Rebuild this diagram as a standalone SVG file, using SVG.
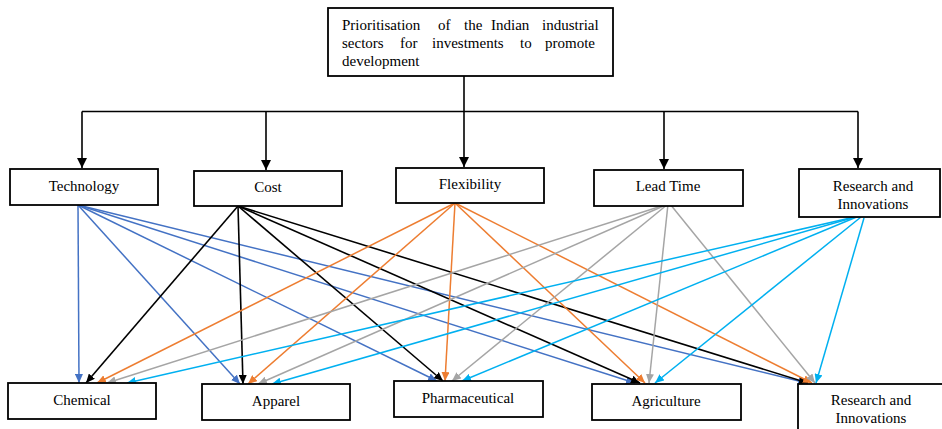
<svg xmlns="http://www.w3.org/2000/svg" width="942" height="429" viewBox="0 0 942 429">
<style>
.box{fill:#fff;stroke:#000;stroke-width:1.8}
.t{font-family:'Liberation Serif','DejaVu Serif',serif;font-size:15px;fill:#000}
.c{text-anchor:middle}
.main{stroke:#000;stroke-width:1.6;fill:none}
.bl{stroke:#4472C4;stroke-width:1.5;fill:none;marker-end:url(#mbl)}
.bk{stroke:#000;stroke-width:1.6;fill:none;marker-end:url(#mbk)}
.or{stroke:#ED7D31;stroke-width:1.5;fill:none;marker-end:url(#mor)}
.gr{stroke:#A5A5A5;stroke-width:1.5;fill:none;marker-end:url(#mgr)}
.cy{stroke:#00B0F0;stroke-width:1.5;fill:none;marker-end:url(#mcy)}
</style>
<defs>
<marker id="mtop" markerUnits="userSpaceOnUse" markerWidth="10" markerHeight="10" refX="10" refY="5" orient="auto"><path d="M0,0 L10,5 L0,10 z" fill="#000"/></marker>
<marker id="mbl" markerUnits="userSpaceOnUse" markerWidth="9" markerHeight="8" refX="9" refY="4" orient="auto"><path d="M0,0 L9,4 L0,8 z" fill="#4472C4"/></marker>
<marker id="mbk" markerUnits="userSpaceOnUse" markerWidth="9" markerHeight="8" refX="9" refY="4" orient="auto"><path d="M0,0 L9,4 L0,8 z" fill="#000"/></marker>
<marker id="mor" markerUnits="userSpaceOnUse" markerWidth="9" markerHeight="8" refX="9" refY="4" orient="auto"><path d="M0,0 L9,4 L0,8 z" fill="#ED7D31"/></marker>
<marker id="mgr" markerUnits="userSpaceOnUse" markerWidth="9" markerHeight="8" refX="9" refY="4" orient="auto"><path d="M0,0 L9,4 L0,8 z" fill="#A5A5A5"/></marker>
<marker id="mcy" markerUnits="userSpaceOnUse" markerWidth="9" markerHeight="8" refX="9" refY="4" orient="auto"><path d="M0,0 L9,4 L0,8 z" fill="#00B0F0"/></marker>
</defs>
<rect width="942" height="429" fill="#fff"/>

<g id="connectors">
<path class="main" d="M464,76 V167" marker-end="url(#mtop)"/>
<path class="main" d="M82,111.5 H858"/>
<path class="main" d="M82,111.5 V168" marker-end="url(#mtop)"/>
<path class="main" d="M266,111.5 V170" marker-end="url(#mtop)"/>
<path class="main" d="M664,111.5 V169" marker-end="url(#mtop)"/>
<path class="main" d="M858,111.5 V168" marker-end="url(#mtop)"/>

<path class="bl" d="M78,205 L79,383"/>
<path class="bl" d="M78,205 L240,384"/>
<path class="bl" d="M78,205 L437,381"/>
<path class="bl" d="M78,205 L635,383"/>
<path class="bl" d="M78,205 L807,383"/>

<path class="bk" d="M238,206 L86,383"/>
<path class="bk" d="M238,206 L243,384"/>
<path class="bk" d="M238,206 L443,381"/>
<path class="bk" d="M238,206 L640,383"/>
<path class="bk" d="M238,206 L808,383"/>

<path class="or" d="M455,203 L97,383"/>
<path class="or" d="M455,203 L248,384"/>
<path class="or" d="M455,203 L445,381"/>
<path class="or" d="M455,203 L645,383"/>
<path class="or" d="M455,203 L812,383"/>

<path class="gr" d="M668,204 L107,383"/>
<path class="gr" d="M668,204 L258,384"/>
<path class="gr" d="M668,204 L452,381"/>
<path class="gr" d="M668,204 L649,383"/>
<path class="gr" d="M670,204 L815,383"/>

<path class="cy" d="M859,216 L127,383"/>
<path class="cy" d="M859,216 L272,384"/>
<path class="cy" d="M859,216 L462,381"/>
<path class="cy" d="M861,217 L655,383"/>
<path class="cy" d="M864,218 L816,383"/>
</g>

<g id="goal">
<rect class="box" x="328" y="8" width="285" height="68"/>
<text class="t" y="30"><tspan x="342">Prioritisation</tspan><tspan x="438">of</tspan><tspan x="464">the</tspan><tspan x="491">Indian</tspan><tspan x="542">industrial</tspan></text>
<text class="t" y="48"><tspan x="342">sectors</tspan><tspan x="400">for</tspan><tspan x="432">investments</tspan><tspan x="520">to</tspan><tspan x="545">promote</tspan></text>
<text class="t" x="342" y="66">development</text>
</g>

<g id="technology"><rect class="box" x="10" y="169" width="148" height="36"/><text class="t c" x="84" y="191">Technology</text></g>
<g id="cost"><rect class="box" x="194" y="171" width="148" height="35"/><text class="t c" x="268" y="192">Cost</text></g>
<g id="flexibility"><rect class="box" x="396" y="168" width="148" height="35"/><text class="t c" x="470" y="189">Flexibility</text></g>
<g id="leadtime"><rect class="box" x="594" y="170" width="149" height="36"/><text class="t c" x="668" y="191">Lead Time</text></g>
<g id="research-criterion"><rect class="box" x="799" y="169" width="141" height="48"/><text class="t c" x="873" y="191">Research and</text><text class="t c" x="873" y="209">Innovations</text></g>

<g id="chemical"><rect class="box" x="8" y="383" width="148" height="36"/><text class="t c" x="82" y="405">Chemical</text></g>
<g id="apparel"><rect class="box" x="202" y="384" width="148" height="36"/><text class="t c" x="276" y="406">Apparel</text></g>
<g id="pharmaceutical"><rect class="box" x="394" y="381" width="149" height="36"/><text class="t c" x="468" y="403">Pharmaceutical</text></g>
<g id="agriculture"><rect class="box" x="592" y="384" width="149" height="36"/><text class="t c" x="666" y="406">Agriculture</text></g>
<g id="research-sector"><rect class="box" x="798" y="384" width="150" height="50"/><text class="t c" x="871" y="405">Research and</text><text class="t c" x="871" y="423">Innovations</text></g>
</svg>
